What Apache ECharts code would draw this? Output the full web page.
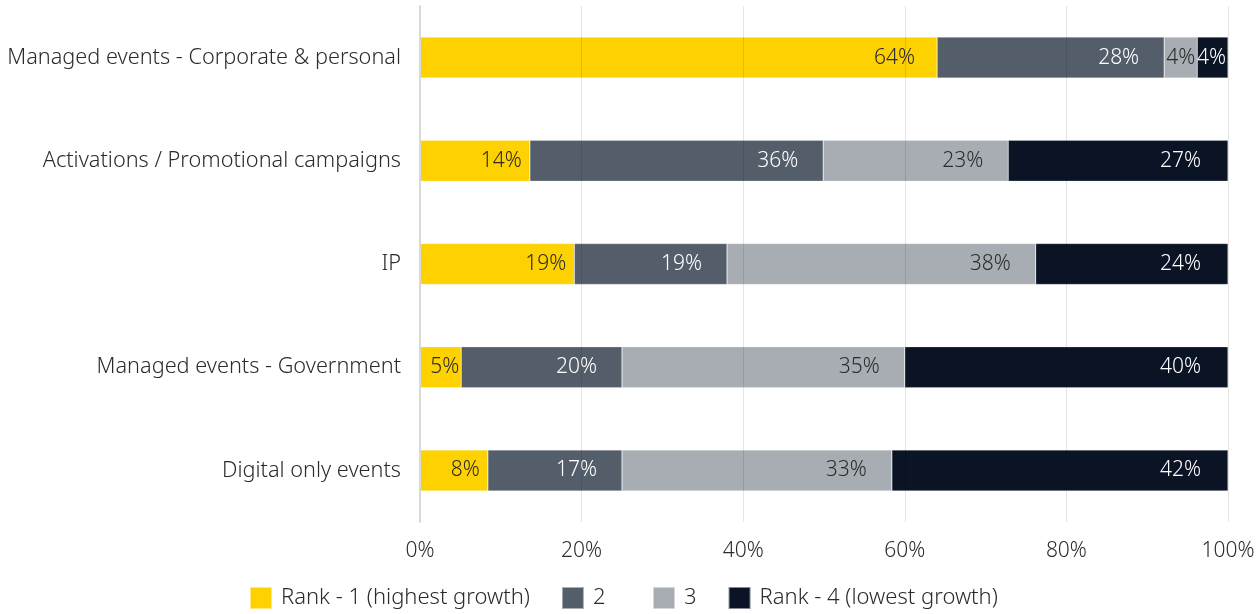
<!DOCTYPE html>
<html><head><meta charset="utf-8">
<script src="https://cdn.jsdelivr.net/npm/echarts@6/dist/echarts.min.js"></script>
<style>html,body{margin:0;padding:0;background:#fff}#c{width:1258px;height:614px}</style>
</head><body><div id="c"></div>
<script>
const categories = ["Managed events - Corporate & personal","Activations / Promotional campaigns","IP","Managed events - Government","Digital only events"];
const seriesNames = ["Rank - 1 (highest growth)","2","3","Rank - 4 (lowest growth)"];
const rank1 = [64, 13.6, 19.1, 5.1, 8.4];
const rank2 = [28.1, 36.3, 18.9, 19.9, 16.6];
const rank3 = [4.1, 22.9, 38.2, 35.0, 33.4];
const rank4 = [3.8, 27.2, 23.8, 40.0, 41.6];
const colors = ["#FED100","#535E6A","#A8ADB3","#0A1424"];
const labelColors = ["#2b2b2b","#ffffff","#2b2b2b","#ffffff"];
const xTicks = [0,20,40,60,80,100];

const font = "'Noto Sans', 'Open Sans', sans-serif";
const data = [rank1, rank2, rank3, rank4];
const labelDist = [8, 25, 25, 27];
const legendBase = {
  bottom:4, itemWidth:22, itemHeight:22, itemGap:31, padding:0, icon:'rect',
  textStyle:{fontSize:22, color:'#2b2b2b', fontFamily:font, fontWeight:300, padding:[0,0,0,4]}
};
const chart = echarts.init(document.getElementById('c'), null, {renderer:'canvas'});
chart.setOption({
  animation:false,
  textStyle:{fontFamily:font},
  grid:{left:420, right:30, top:6, bottom:92, containLabel:false},
  legend:[
    Object.assign({}, legendBase, {left:249, data:seriesNames.slice(0,2)}),
    Object.assign({}, legendBase, {left:652, data:seriesNames.slice(2)})
  ],
  xAxis:{
    type:'value', min:xTicks[0], max:xTicks[xTicks.length-1], interval:20, z:3,
    axisLine:{show:false}, axisTick:{show:false},
    splitLine:{show:true, lineStyle:{color:'rgba(0,0,0,0.1)', width:1}},
    axisLabel:{formatter:v=>v+'%', fontSize:21, color:'#2b2b2b', margin:19, fontWeight:300}
  },
  yAxis:{
    type:'category', inverse:true, data:categories, z:4,
    axisLine:{show:true, lineStyle:{color:'#d9d9d9', width:2}},
    axisTick:{show:false},
    axisLabel:{fontSize:21.7, color:'#2b2b2b', margin:19, fontWeight:300}
  },
  series: data.map((arr,i)=>({
    name:seriesNames[i], type:'bar', stack:'total', barWidth:41,
    data:arr.map(v=>({value:v, label:{distance: v<6 ? 2 : (v>50 ? 22 : labelDist[i])}})),
    itemStyle:{color:colors[i], borderColor:'rgba(255,255,255,0.5)', borderWidth:0.5},
    label:{show:true, position:'insideRight', fontSize:21, color:labelColors[i], fontWeight:300,
      formatter:p=>Math.round(p.value)+'%'}
  }))
});
</script></body></html>
